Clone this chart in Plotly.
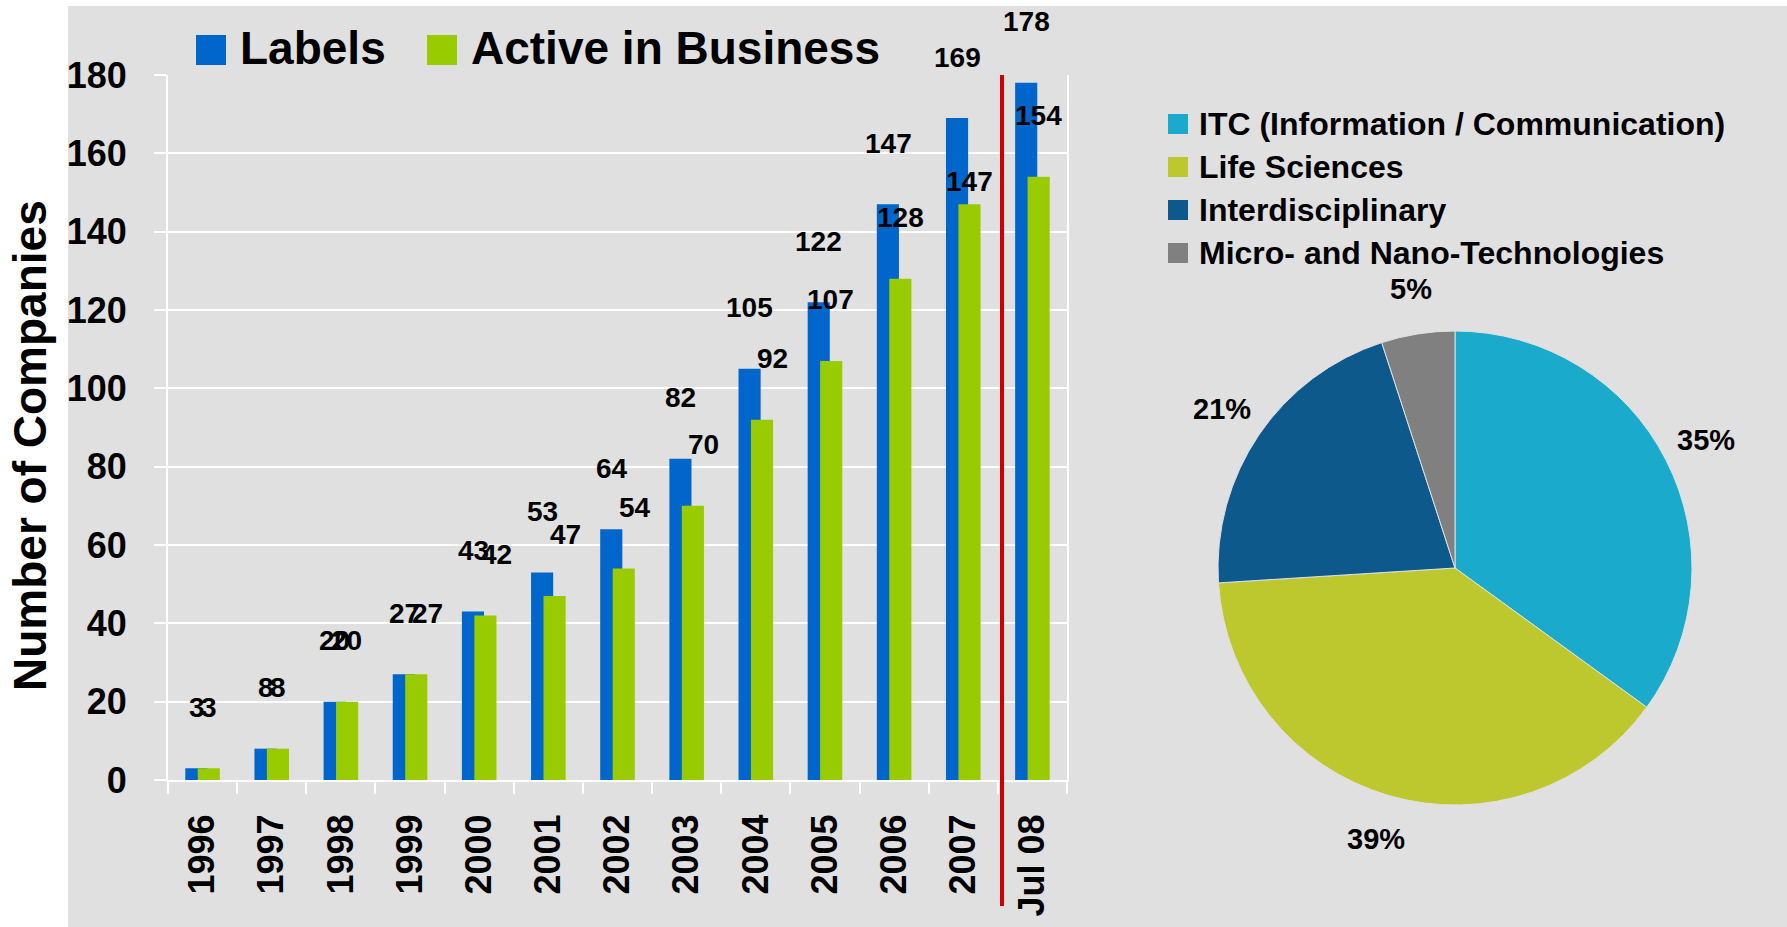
import math
import plotly.graph_objects as go

# canvas size of the reference
W, H = 1787, 927

# bar chart data
years = ["1996", "1997", "1998", "1999", "2000", "2001", "2002",
         "2003", "2004", "2005", "2006", "2007", "Jul 08"]
labels_cnt = [3, 8, 20, 27, 43, 53, 64, 82, 105, 122, 147, 169, 178]
active_cnt = [3, 8, 20, 27, 42, 47, 54, 70, 92, 107, 128, 147, 154]

# pie chart data
sectors = ["ITC (Information / Communication)", "Life Sciences",
           "Interdisciplinary", "Micro- and Nano-Technologies"]
sector_share = [35, 39, 21, 5]
sector_colors = ["#1AABCC", "#BDC82E", "#0E598B", "#808080"]

BLUE = "#0066CC"
GREEN = "#99CC00"
BG = "#E0E0E0"
FONT = "Liberation Sans"


def px(x):  # pixel -> paper x
    return x / W


def py(y):  # pixel (from top) -> paper y
    return 1 - y / H


fig = go.Figure()

fig.add_bar(x=years, y=labels_cnt, name="Labels", marker=dict(color=BLUE, line_width=0),
            width=0.32, offset=-0.25, showlegend=False)
fig.add_bar(x=years, y=active_cnt, name="Active in Business", marker=dict(color=GREEN, line_width=0),
            width=0.32, offset=-0.07, showlegend=False)

# pie, centre (1455, 568) px, radius 237 px
pcx, pcy, pr = 1455, 568, 237
fig.add_pie(labels=sectors, values=sector_share, sort=False, direction="clockwise", rotation=0,
            marker=dict(colors=sector_colors, line=dict(color=BG, width=1)),
            textinfo="none",
            domain=dict(x=[px(pcx - pr), px(pcx + pr)], y=[py(pcy + pr), py(pcy - pr)]),
            showlegend=False)

# percent labels a bit away from the pie, like Excel does
tot = sum(sector_share)
cum = 0
for s in sector_share:
    ang = math.radians((cum + s / 2) / tot * 360)
    cum += s
    lx = pcx + 282 * math.sin(ang)
    ly = pcy - 282 * math.cos(ang)
    fig.add_annotation(xref="paper", yref="paper", x=px(lx), y=py(ly), text=f"{s}%", showarrow=False,
                       xanchor="center", yanchor="middle",
                       font=dict(family=FONT, size=29, color="black", weight="bold"))

# value labels above the bars (Excel style, well above the bar tops)
lab_font = dict(family=FONT, size=28, color="black", weight="bold")
nudged = ("1999", "2000", "2001", "2002", "2003", "2004")  # green labels moved right in the original
for i, yr in enumerate(years):
    fig.add_annotation(x=i, y=labels_cnt[i], text=str(labels_cnt[i]), showarrow=False,
                       xshift=-6, yshift=61, xanchor="center", yanchor="middle", font=lab_font)
    shift = 23 if yr == "2007" else 61
    dx = 17 if yr in nudged else 6
    fig.add_annotation(x=i, y=active_cnt[i], text=str(active_cnt[i]), showarrow=False,
                       xshift=dx, yshift=shift, xanchor="center", yanchor="middle", font=lab_font)

shapes = []
# grey panel behind everything
shapes.append(dict(type="rect", xref="paper", yref="paper", x0=px(68), x1=1, y0=0, y1=py(6),
                   fillcolor=BG, line_width=0, layer="below"))
# red separator before the 2008 bar
shapes.append(dict(type="line", xref="x", yref="paper", x0=11.56, x1=11.56, y0=py(906), y1=py(75),
                   line=dict(color="#CC0000", width=4)))

# bar legend
bar_leg = [("Labels", BLUE, 196), ("Active in Business", GREEN, 427)]
for name, col, x0 in bar_leg:
    shapes.append(dict(type="rect", xref="paper", yref="paper", x0=px(x0), x1=px(x0 + 30),
                       y0=py(65), y1=py(35), fillcolor=col, line_width=0))
    fig.add_annotation(xref="paper", yref="paper", x=px(x0 + 42), y=py(48), text=name, showarrow=False,
                       xanchor="left", yanchor="middle", font=dict(family=FONT, size=46, color="black", weight="bold"))

# pie legend
for i, (name, col) in enumerate(zip(sectors, sector_colors)):
    yc = 124 + 43 * i
    shapes.append(dict(type="rect", xref="paper", yref="paper", x0=px(1168), x1=px(1188),
                       y0=py(yc + 10), y1=py(yc - 10), fillcolor=col, line_width=0))
    fig.add_annotation(xref="paper", yref="paper", x=px(1197), y=py(yc), text=name, showarrow=False,
                       xanchor="left", yanchor="middle", font=dict(family=FONT, size=32, color="black", weight="bold"))

# y axis title
fig.add_annotation(xref="paper", yref="paper", x=px(30), y=py(446), text="Number of Companies",
                   textangle=-90, showarrow=False, xanchor="center", yanchor="middle",
                   font=dict(family=FONT, size=46, color="black", weight="bold"))

fig.update_layout(
    template="none",
    width=W, height=H,
    margin=dict(l=0, r=0, t=0, b=0),
    paper_bgcolor="white",
    plot_bgcolor=BG,
    barmode="overlay",
    showlegend=False,
    font=dict(family=FONT, color="black"),
    shapes=shapes,
)

fig.update_xaxes(
    domain=[px(168), px(1067)],
    type="category", range=[-0.5, 12.5],
    tickson="boundaries", ticks="outside", ticklen=12, tickwidth=2, tickcolor="white",
    showline=True, linecolor="white", linewidth=2, showgrid=False,
    tickangle=-90, tickfont=dict(family=FONT, size=36, color="black", weight="bold"),
    ticklabelstandoff=18,
    automargin=False,
)

fig.update_yaxes(
    domain=[py(780), py(75)],
    range=[0, 180], dtick=20,
    ticks="outside", ticklen=12, tickwidth=2, tickcolor="white",
    showline=True, mirror=True, linecolor="white", linewidth=2,
    showgrid=True, gridcolor="white", gridwidth=2, zeroline=False,
    tickfont=dict(family=FONT, size=36, color="black", weight="bold"),
    ticklabelstandoff=20,
    automargin=False,
)

fig.write_html("out.html", config={"displayModeBar": False},
               post_script="document.body.style.margin='0px';")
